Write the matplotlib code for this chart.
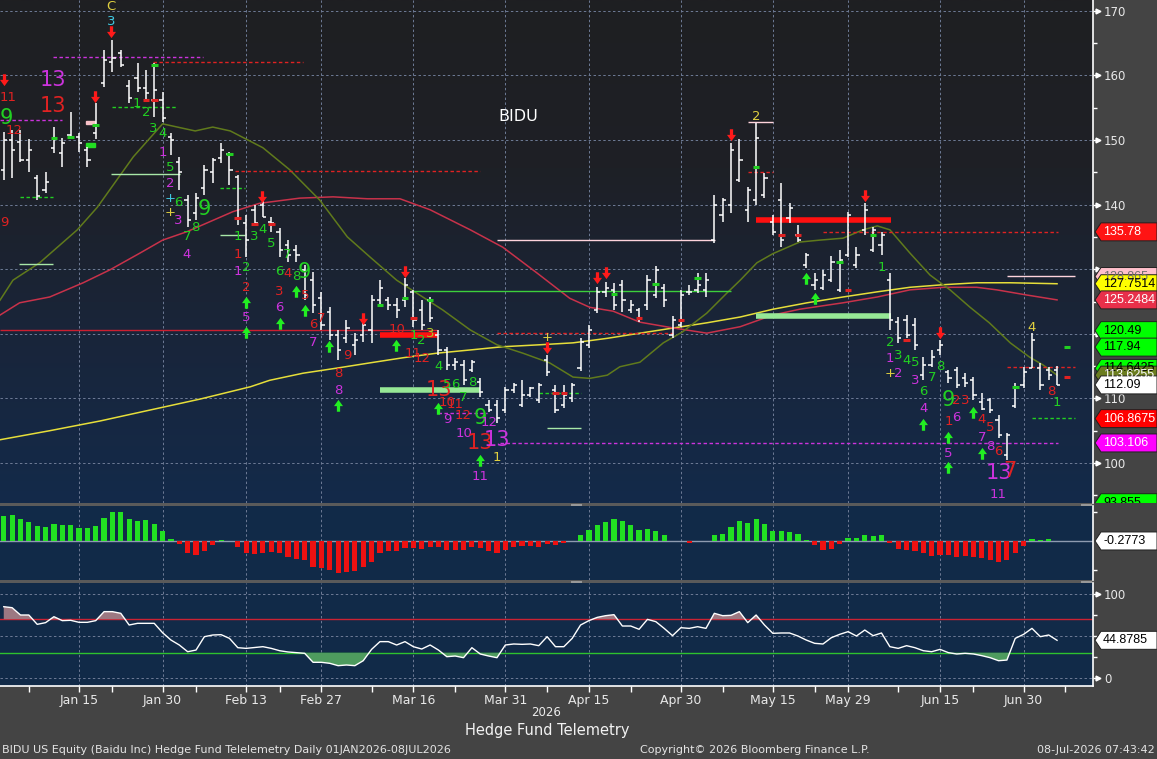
import datetime as dt
import numpy as np
import matplotlib
matplotlib.use("Agg")
import matplotlib.pyplot as plt
from matplotlib.path import Path
from matplotlib.patches import Polygon, Rectangle
from matplotlib.transforms import blended_transform_factory, IdentityTransform, Bbox
from matplotlib.colors import LinearSegmentedColormap

# ------------------------------------------------------------------ data
holidays = ["2026-01-19", "2026-02-16", "2026-04-03", "2026-05-25", "2026-06-19", "2026-07-03"]
first_day = "2026-01-02"

opens = [145.4,150.0,149.7,146.9,144.1,142.3,148.8,148.0,150.8,150.5,
         148.5,151.1,158.8,162.1,163.5,158.4,159.6,158.1,156.2,156.2,
         150.5,146.6,140.7,138.7,142.6,145.0,147.2,147.8,144.3,137.2,
         139.2,139.9,137.3,135.8,133.7,133.0,129.9,128.3,125.5,123.4,
         119.8,119.3,118.3,119.8,120.6,125.2,125.2,124.5,125.2,126.5,
         123.7,125.2,119.8,117.5,115.2,115.2,114.4,112.5,109.0,109.0,
         108.2,111.3,109.0,110.5,109.8,115.9,111.3,109.0,110.1,114.7,
         118.3,123.7,126.5,126.8,127.6,123.7,123.7,124.5,126.0,127.1,
         119.8,121.4,126.5,126.8,126.8,134.5,138.4,139.9,143.8,139.2,
         140.7,141.5,137.3,140.7,137.9,135.3,130.6,127.6,127.1,128.3,
         126.8,132.2,130.6,136.1,133.0,133.7,128.3,121.8,122.1,121.4,
         113.6,115.2,117.5,114.1,114.4,113.2,112.9,109.4,109.8,106.7,
         101.2,108.9,112.1,114.7,114.7,114.4,114.4]
highs = [151.2,151.5,151.5,150.2,144.6,145.0,152.0,150.3,154.3,151.1,
         148.9,155.7,163.9,165.5,163.9,159.3,161.9,160.8,161.9,157.4,
         151.1,147.4,141.5,141.8,146.1,147.2,149.5,148.1,144.6,138.4,
         139.9,140.7,138.1,136.4,134.5,133.7,130.6,129.6,126.5,124.1,
         120.6,122.1,120.1,122.4,126.0,128.3,125.7,125.5,128.6,126.8,
         125.2,125.7,120.6,117.9,116.2,115.9,115.9,113.2,109.8,109.8,
         111.8,112.4,112.9,111.8,112.4,116.7,112.1,112.1,112.4,119.3,
         121.4,127.2,128.0,127.9,128.3,125.2,124.0,129.1,130.5,127.7,
         122.8,126.8,127.6,129.4,129.4,141.5,141.0,149.5,150.1,142.7,
         152.6,144.9,138.4,143.3,140.2,136.8,132.5,129.4,129.9,132.0,
         133.0,138.8,133.4,140.2,136.5,135.8,129.4,122.6,122.9,122.4,
         116.4,117.5,119.0,114.4,114.9,113.9,113.3,110.8,110.1,107.4,
         104.6,112.4,114.9,120.1,115.5,114.9,115.0]
lows = [143.8,144.1,146.6,145.0,140.7,141.8,148.0,145.8,150.3,148.1,
        145.8,150.2,158.2,160.5,161.3,155.7,157.4,156.2,153.6,152.8,
        147.7,142.3,136.5,137.6,141.5,143.3,146.4,143.0,136.8,131.9,
        136.8,138.1,135.8,131.9,131.1,131.1,125.2,123.2,120.6,119.0,
        115.9,118.6,116.7,118.7,118.6,124.2,123.7,122.4,124.2,121.1,
        120.6,121.8,116.7,114.4,114.4,112.1,114.1,110.2,107.9,106.2,
        107.7,110.8,108.7,110.2,109.3,113.5,107.7,108.5,109.4,114.2,
        117.8,123.2,125.7,123.7,123.4,123.2,121.8,123.7,125.5,124.2,
        119.4,121.1,126.0,126.3,125.7,134.1,137.3,138.7,143.5,137.3,
        139.9,141.0,135.3,133.4,137.1,134.2,130.2,126.8,126.8,128.0,
        126.5,131.9,130.2,135.3,132.7,132.2,120.6,118.6,119.3,117.5,
        112.9,114.9,116.7,112.4,111.6,111.8,109.8,108.2,107.7,103.9,
        100.5,108.5,111.6,114.7,111.3,112.9,112.1]
closes = [150.0,148.5,146.9,148.5,141.3,143.5,150.3,149.5,150.5,149.5,
          146.9,152.3,162.4,162.7,161.6,156.5,158.1,157.3,157.7,153.4,
          150.0,145.0,137.6,141.0,145.4,146.9,148.5,145.4,137.9,134.5,
          137.2,138.1,137.2,133.0,132.2,132.2,126.0,124.5,121.4,119.8,
          117.5,120.9,119.0,121.4,125.2,127.1,124.5,123.7,127.6,122.1,
          121.4,122.4,117.5,115.2,115.6,112.9,115.6,111.0,108.2,107.0,
          111.3,112.1,110.5,111.6,112.1,114.1,108.2,110.5,112.1,118.7,
          120.6,126.5,127.1,124.5,125.2,124.5,122.4,128.3,129.9,125.2,
          122.1,126.0,126.5,127.6,128.3,139.9,140.7,148.5,146.9,142.3,
          150.3,144.1,135.8,134.5,139.5,134.5,132.2,128.3,129.1,131.1,
          131.4,138.4,132.2,139.2,136.1,135.3,122.1,119.3,119.8,118.3,
          115.2,116.4,118.3,113.2,112.1,112.4,110.5,108.4,108.2,104.3,
          104.3,111.6,114.1,119.0,112.1,113.6,112.09]

# moving averages (bar index, price)
ma_short_x = [-0.45,1.1,4.3,8.8,11.2,15.5,19.0,22.9,25.0,27.1,31.0,34.2,37.8,41.1,43.8,47.0,49.4,
              52.5,55.8,59.0,62.1,65.3,68.1,70.1,72.2,73.7,76.1,78.9,81.2,84.1,86.5,88.1,90.1,92.0,
              95.2,97.6,100.4,102.8,104.5,106.0,108.4,110.8,113.2,115.6,117.9,120.4,122.7,124.3,126.0]
ma_short_y = [125.2,128.3,131.0,136.1,139.6,147.4,152.5,151.4,152.0,151.4,148.8,145.4,140.7,135.0,131.9,
              128.3,126.3,123.7,120.6,118.3,117.0,115.5,113.3,113.1,113.6,114.9,115.6,118.6,120.3,123.2,
              126.3,128.3,131.0,132.4,134.2,134.5,134.8,136.1,136.7,136.1,132.5,129.1,126.8,124.1,121.7,
              118.6,116.4,115.2,113.6]
ma_mid_x = [-0.45,1.9,5.5,9.5,12.7,16.3,19.0,21.9,27.4,30.6,35.4,39.4,43.5,47.4,51.0,55.8,59.7,63.8,
            67.7,70.1,72.9,76.1,80.1,84.1,88.1,92.0,95.2,100.4,104.5,108.4,112.4,116.4,118.8,122.4,126.0]
ma_mid_y = [122.9,124.8,125.7,127.9,129.9,132.5,134.5,135.8,138.9,140.2,141.0,141.2,140.9,140.9,139.2,
            136.1,133.4,129.4,125.5,124.1,123.5,121.8,120.9,120.1,121.1,122.9,123.8,124.8,125.7,126.8,
            127.2,127.2,126.8,126.0,125.25]
ma_long_x = [-0.45,5.5,11.5,17.5,23.5,29.5,31.8,35.8,39.9,43.8,47.8,51.8,55.8,59.7,64.1,68.1,72.2,
             76.1,80.1,84.1,88.1,92.0,96.1,100.4,104.5,108.4,112.4,116.4,120.4,126.0]
ma_long_y = [103.6,105.0,106.5,108.2,109.9,111.8,112.8,113.9,114.7,115.5,116.3,117.0,117.5,118.0,118.3,
             118.6,119.3,120.1,120.9,121.7,122.6,123.8,124.8,125.7,126.5,127.2,127.6,127.9,127.9,127.75]

hist = [1.72,1.79,1.50,1.29,1.03,0.99,1.15,1.10,1.10,0.90,
        0.90,1.03,1.59,1.98,1.98,1.52,1.38,1.45,1.15,0.69,
        0.14,-0.23,-0.85,-0.97,-0.69,-0.28,0.07,0.00,-0.39,-0.85,
        -0.92,-0.81,-0.74,-0.85,-1.08,-1.24,-1.31,-1.77,-1.88,-2.00,
        -2.19,-2.12,-2.05,-1.77,-1.43,-0.85,-0.67,-0.67,-0.46,-0.50,
        -0.55,-0.39,-0.39,-0.62,-0.62,-0.62,-0.39,-0.50,-0.67,-0.81,
        -0.62,-0.39,-0.34,-0.32,-0.39,-0.21,-0.28,-0.16,0.00,0.41,
        0.76,1.10,1.29,1.52,1.38,1.10,0.76,0.83,0.69,0.41,
        0.02,-0.02,-0.12,0.02,0.01,0.41,0.48,0.94,1.38,1.26,
        1.52,1.17,0.69,0.69,0.60,0.48,0.07,-0.28,-0.62,-0.55,
        -0.23,0.23,0.23,0.41,0.34,0.41,-0.16,-0.55,-0.62,-0.69,
        -0.81,-1.01,-0.97,-0.97,-1.08,-1.01,-1.08,-1.19,-1.31,-1.43,
        -1.31,-0.81,-0.34,0.14,0.07,0.14,0.02]

rsi = [84.9,83.7,75.0,75.0,63.9,65.9,73.0,68.3,68.7,66.3,
       66.3,68.3,79.0,79.0,77.0,63.1,65.1,65.1,65.1,53.9,
       45.2,39.3,31.3,33.3,49.2,51.2,51.6,47.2,36.1,35.3,
       36.3,37.3,35.3,32.5,31.0,30.2,29.4,18.7,18.7,17.5,
       14.7,15.5,14.7,20.6,34.1,43.3,43.3,39.3,43.3,37.3,
       34.5,39.3,33.3,25.4,26.2,24.2,36.1,28.6,26.2,24.2,
       39.3,40.5,40.1,40.5,38.5,49.2,37.3,37.3,47.2,63.1,
       68.3,72.2,74.2,75.4,61.9,61.9,58.0,69.8,67.1,59.1,
       50.4,59.9,59.1,61.1,59.1,77.0,74.2,74.6,79.0,65.9,
       75.0,63.1,53.2,53.6,53.6,50.0,45.2,41.3,40.5,48.0,
       52.0,55.2,50.0,57.1,50.4,53.6,37.3,35.3,38.5,36.1,
       32.5,31.3,34.1,30.2,28.6,29.4,28.6,26.6,24.2,20.6,
       21.4,47.2,52.0,59.1,49.2,51.2,44.9]

tick_dates = ["2026-01-15", "2026-01-30", "2026-02-13", "2026-02-27", "2026-03-16", "2026-03-31",
              "2026-04-15", "2026-04-30", "2026-05-15", "2026-05-29", "2026-06-15", "2026-06-30"]
tick_labels = ["Jan 15", "Jan 30", "Feb 13", "Feb 27", "Mar 16", "Mar 31",
               "Apr 15", "Apr 30", "May 15", "May 29", "Jun 15", "Jun 30"]
minor_tick_dates = ["2026-01-07", "2026-01-22", "2026-02-05", "2026-02-20", "2026-03-09", "2026-03-23",
                    "2026-04-08", "2026-04-22", "2026-05-07", "2026-05-22", "2026-06-08", "2026-06-22",
                    "2026-07-08"]
price_tick_values = [100, 110, 120, 130, 140, 150, 160, 170]
price_tick_labels = ["100", "110", "", "", "140", "150", "160", "170"]

# TD-sequential style counts: (bar index, price, text, colour key, big)
td_labels = [
    (12.8,170.6,'C','Y',0),(12.8,168.3,'3','C',0),(0.5,156.6,'11','R',0),(5.9,159.3,'13','M',1),
    (5.9,155.3,'13','R',1),(0.3,153.4,'9','G',1),(1.2,151.5,'12','R',0),(15.9,155.7,'1','G',0),
    (17.0,154.3,'2','G',0),(17.9,151.8,'3','G',0),(19.0,151.0,'4','G',0),(19.0,148.1,'1','M',0),
    (19.9,145.8,'5','G',0),(19.9,143.2,'2','M',0),(19.9,140.9,'+','C',0),(20.9,140.4,'6','G',0),
    (24.0,139.3,'9','G',1),(19.9,138.7,'+','Y',0),(20.9,137.6,'3','M',0),(22.9,136.4,'8','G',0),
    (21.9,135.0,'7','G',0),(21.9,132.2,'4','M',0),(28.0,135.0,'1','G',0),(30.0,135.0,'3','G',0),
    (30.9,136.2,'4','G',0),(32.0,134.0,'5','G',0),(33.9,132.2,'7','G',0),(28.0,132.2,'1','R',0),
    (28.0,129.6,'1','M',0),(29.0,130.2,'2','G',0),(29.0,127.2,'2','R',0),(29.0,122.6,'5','M',0),
    (33.0,129.6,'6','G',0),(33.0,126.5,'3','R',0),(33.0,124.0,'6','M',0),(33.9,129.4,'4','R',0),
    (35.0,128.8,'8','G',0),(36.0,129.6,'9','G',1),(36.0,126.0,'5','R',0),(37.0,121.4,'6','R',0),
    (38.0,122.4,'7','R',0),(37.0,118.6,'7','M',0),(41.1,116.7,'9','R',0),(40.0,113.9,'8','R',0),
    (40.0,111.3,'8','M',0),(47.0,120.6,'10','R',0),(49.0,119.8,'1','G',0),(50.0,118.9,'2','G',0),
    (51.0,120.1,'3','O',0),(49.0,117.0,'11','R',0),(50.0,116.1,'12','R',0),(52.0,114.9,'4','G',0),
    (52.0,111.3,'13','R',1),(53.0,112.1,'5','G',0),(54.0,112.1,'6','G',0),(56.0,112.4,'8','G',0),
    (55.0,110.2,'7','G',0),(53.0,109.4,'10','R',0),(54.0,109.1,'11','R',0),(55.0,107.4,'12','R',0),
    (53.0,106.8,'9','M',0),(57.0,107.0,'9','G',1),(58.0,106.2,'12','M',0),(55.0,104.6,'10','M',0),
    (57.0,103.1,'13','R',1),(59.0,103.6,'13','M',1),(59.0,100.8,'1','Y',0),(57.0,97.9,'11','M',0),
    (65.0,119.5,'+','Y',0),(90.0,153.6,'2','Y',0),(105.0,130.3,'1','G',0),(106.0,118.7,'2','G',0),
    (106.0,116.1,'1','M',0),(107.0,116.6,'3','G',0),(108.0,115.9,'4','G',0),(109.0,115.6,'5','G',0),
    (106.0,113.9,'+','Y',0),(107.0,113.9,'2','M',0),(109.0,112.8,'3','M',0),(111.0,113.2,'7','G',0),
    (112.0,114.9,'8','G',0),(110.0,111.1,'6','G',0),(110.0,108.4,'4','M',0),(113.0,109.8,'9','G',1),
    (114.0,109.6,'2','R',0),(115.0,109.6,'3','R',0),(113.0,106.4,'1','R',0),(114.0,107.0,'6','M',0),
    (113.0,101.5,'5','M',0),(117.0,106.8,'4','R',0),(118.0,105.5,'5','R',0),(117.0,104.0,'7','M',0),
    (118.0,102.5,'8','M',0),(119.0,101.8,'6','R',0),(119.0,98.4,'13','M',1),(120.3,98.7,'7','R',1),
    (119.0,95.2,'11','M',0),(123.0,121.0,'4','Y',0),(125.3,111.1,'8','R',0),(126.0,109.4,'1','G',0),
    (0.1,137.2,'9','R',0),
]
down_arrows = [(12.8,166.7),(0.0,159.3),(10.9,156.6),(30.9,141.2),(43.0,122.3),(48.0,129.6),
               (65.0,117.8),(71.0,128.6),(72.0,129.4),(87.0,150.8),(103.0,141.3),(112.0,120.1)]
up_arrows = [(29.0,124.9),(29.0,120.3),(33.0,121.7),(35.0,126.6),(36.0,123.7),(38.9,118.1),
             (40.0,109.0),(46.9,118.3),(52.0,108.5),(57.0,100.5),(96.0,128.6),(97.0,125.5),
             (110.0,106.0),(113.0,104.0),(113.0,99.4),(116.0,107.9),(117.0,101.5)]
bar_marks = [(6,150.3,'G'),(8,150.5,'G'),(11,152.3,'G'),(18,161.6,'G'),(17,156.2,'R'),(18,156.2,'R'),
             (27,147.8,'G'),(28,137.9,'R'),(30,137.0,'R'),(32,137.0,'R'),(45,124.5,'G'),(48,125.5,'G'),
             (49,122.4,'R'),(51,125.2,'G'),(66,110.8,'R'),(67,110.8,'R'),(73,126.2,'G'),(76,122.4,'R'),
             (78,127.7,'G'),(81,122.1,'R'),(83,128.6,'G'),(90,145.8,'G'),(93,135.3,'R'),(95,135.3,'R'),
             (100,131.1,'G'),(101,126.8,'R'),(104,135.3,'G'),(108,119.0,'R'),(121,111.8,'G'),
             (127.2,118.0,'G'),(127.2,113.3,'R')]
# level lines: (from index, to index, price, colour key, style)
levels = [
    (-0.45,7.0,153.1,'M','--'),(5.9,23.8,162.8,'M','--'),(17.9,35.8,162.0,'R','--'),
    (12.9,20.7,155.1,'G','--'),(12.8,21.1,144.7,'PG','-'),(25.9,28.9,142.6,'G','--'),
    (27.7,57.0,145.2,'R','--'),(1.9,5.9,141.2,'G','--'),(25.9,28.9,135.3,'PG','-'),
    (1.8,5.9,130.8,'PG','-'),(-0.45,51.8,120.6,'RS','-'),(52.0,57.8,107.7,'M','--'),
    (59.4,126.1,103.106,'M','--'),(59.0,85.1,134.5,'PK','-'),(49.0,87.0,126.6,'GL','-'),
    (59.0,80.0,120.1,'R','--'),(64.0,69.0,110.9,'G','--'),(65.0,69.0,105.4,'PG','-'),
    (89.0,92.0,145.0,'R','--'),(89.0,92.0,152.8,'PK','-'),(98.0,126.1,135.78,'R','--'),
    (120.0,128.1,128.9,'PK','-'),(120.0,128.1,114.9,'R','--'),(123.0,128.1,107.0,'G','--'),
]
thick_levels = [(45.0,51.8,119.8,'RT'),(45.0,57.0,111.3,'PGT'),(90.0,106.1,137.6,'RT'),(90.0,106.1,122.8,'PGT')]
small_boxes = [(9.85,10.9,152.4,153.0,'#f7c0c8'),(9.85,10.9,148.9,149.6,'#22dd22')]

# right-hand value flags (value, text, background, text colour)
price_flags = [(135.78,'135.78','#ff1414','white'),(128.865,'128.865','#ffc0cb','#707070'),
               (127.7514,'127.7514','#ffff00','black'),(125.2484,'125.2484','#e8304a','white'),
               (120.49,'120.49','#00ff00','black'),(117.94,'117.94','#00ff00','black'),
               (114.6425,'114.6425','#00ff00','black'),(113.6,'113.6255','#6b7d20','white'),
               (112.09,'112.09','white','black'),(106.8675,'106.8675','#ff0000','white'),
               (103.106,'103.106','#ff00ff','white'),(93.855,'93.855','#00ff00','black')]
hist_flag = (0.0, '-0.2773')
rsi_flag = (44.8785, '44.8785')

COL = {'G':'#22d022','R':'#e02222','M':'#cc33dd','Y':'#e0d040','C':'#40c8e0','O':'#a8c828',
       'PG':'#a8e8a8','PK':'#ffd4dc','GL':'#3ccf3c','RS':'#cc1f30','RT':'#ff1010','PGT':'#96e896'}

# ------------------------------------------------------------------ calendar -> bar index
hol = {dt.date.fromisoformat(h) for h in holidays}
d = dt.date.fromisoformat(first_day)
days = []
while d <= dt.date(2026, 7, 31):
    if d.weekday() < 5 and d not in hol:
        days.append(d)
    d += dt.timedelta(days=1)
pos = {dd: k for k, dd in enumerate(days)}
major_idx = [pos[dt.date.fromisoformat(s)] for s in tick_dates]
minor_idx = [pos[dt.date.fromisoformat(s)] for s in minor_tick_dates]

n = len(opens)
x = np.arange(n)
opens, highs, lows, closes = map(np.array, (opens, highs, lows, closes))
hist = np.array(hist); rsi = np.array(rsi)

# ------------------------------------------------------------------ figure
W, H = 1157, 759
fig = plt.figure(figsize=(W / 100, H / 100), dpi=100, facecolor='#444444')
plt.rcParams['font.family'] = ['DejaVu Sans']

def rect(l, t, r, b):
    return [l / W, 1 - b / H, (r - l) / W, (b - t) / H]

bg = fig.add_axes([0, 0, 1, 1], zorder=-5)
bg.set_xlim(0, W); bg.set_ylim(H, 0); bg.axis('off')
bg.add_patch(Rectangle((0, 503), 1093, 3, color='#5a5a5a'))
bg.add_patch(Rectangle((0, 580), 1093, 3, color='#5a5a5a'))
for gx in (576, 1086):
    for gy in (503, 580):
        bg.plot([gx - 5, gx + 5], [gy + 0.6, gy + 0.6], color='#9a9a9a', lw=0.7)
        bg.plot([gx - 5, gx + 5], [gy + 2.2, gy + 2.2], color='#9a9a9a', lw=0.7)

ax = fig.add_axes(rect(0, 0, 1093, 503))
axh = fig.add_axes(rect(0, 506, 1093, 580), sharex=ax)
axr = fig.add_axes(rect(0, 583, 1093, 686), sharex=ax)

XL = (-0.45, 130.3)
PY = (93.81, 171.67)
HY = (-2.69, 2.41)
RY = (-9.5, 113.1)

grad = np.linspace(0, 1, 256).reshape(-1, 1)
cmap = LinearSegmentedColormap.from_list('bgc', ['#132a4a', '#19253a', '#1e2026', '#1f1f22'])
ax.imshow(grad, extent=[0, 1, 0, 1], transform=ax.transAxes, cmap=cmap, aspect='auto',
          origin='lower', zorder=0)
axh.set_facecolor('#112a48')
axr.set_facecolor('#112a48')

ax.set_xlim(*XL); ax.set_ylim(*PY)
axh.set_ylim(*HY); axr.set_ylim(*RY)

grid_kw = dict(color='#6e7b96', lw=0.7, ls=(0, (2.5, 2.5)), zorder=1)
for v in price_tick_values:
    ax.axhline(v, **grid_kw)
for v in (0, 50, 100):
    axr.axhline(v, **grid_kw)
for a in (ax, axh, axr):
    for k in major_idx:
        a.axvline(k, **grid_kw)

for a in (ax, axh, axr):
    for s in ('top', 'left', 'bottom'):
        a.spines[s].set_visible(False)
    a.spines['right'].set_color('white')
    a.spines['right'].set_linewidth(1.2)
    a.yaxis.tick_right()
    a.tick_params(axis='y', which='both', colors='white', labelcolor='#e8e8e8', labelsize=8.5,
                  length=3, width=1, pad=5, direction='out')
    a.tick_params(axis='x', which='both', bottom=False, labelbottom=False)
axr.spines['bottom'].set_visible(True)
axr.spines['bottom'].set_color('white')
axr.spines['bottom'].set_linewidth(1.2)
axr.set_xticks(major_idx)
axr.set_xticklabels(tick_labels)
axr.set_xticks(minor_idx, minor=True)
axr.tick_params(axis='x', which='both', bottom=True, labelbottom=True, colors='white',
                labelcolor='#e8e8e8', labelsize=9, length=4, width=1, pad=1.5, direction='out')

ax.set_yticks(price_tick_values)
ax.set_yticklabels(price_tick_labels)
ax.set_yticks(range(95, 171, 5), minor=True)
axh.set_yticks([-2, 2]); axh.set_yticklabels([])
axr.set_yticks([0, 50, 100]); axr.set_yticklabels(['0', '', '100'])
axr.set_yticks([25, 75], minor=True)

def tick_pointers(a, vals):
    tr = blended_transform_factory(IdentityTransform(), a.transData)
    a.plot([1097.5] * len(vals), vals, linestyle='none', marker='>', ms=3.5, color='white',
           transform=tr, clip_on=False, zorder=5)
tick_pointers(ax, price_tick_values)
tick_pointers(axr, [0, 100])

# ------------------------------------------------------------------ price panel
ax.plot(ma_long_x, ma_long_y, color='#e6de3a', lw=1.1, zorder=2)
ax.plot(ma_mid_x, ma_mid_y, color='#c8324a', lw=1.1, zorder=2)
ax.plot(ma_short_x, ma_short_y, color='#607a1c', lw=1.1, zorder=2)

for x0, x1, yv, ck, st in levels:
    ls = (0, (2.5, 1.8)) if st == '--' else '-'
    ax.hlines(yv, x0, x1, colors=COL[ck], linestyles=[ls], lw=1.0, zorder=2)
for x0, x1, yv, ck in thick_levels:
    ax.hlines(yv, x0, x1, colors=COL[ck], lw=4.0, zorder=2)
for x0, x1, y0, y1, c in small_boxes:
    ax.add_patch(Rectangle((x0, y0), x1 - x0, y1 - y0, color=c, zorder=3))

ax.vlines(x, lows, highs, color='white', lw=1.1, zorder=3)
ax.hlines(opens, x - 0.38, x, color='white', lw=1.1, zorder=3)
ax.hlines(closes, x, x + 0.38, color='white', lw=1.1, zorder=3)

for bi, yv, ck in bar_marks:
    ax.hlines(yv, bi - 0.4, bi + 0.4, colors=COL[ck], lw=2.2, zorder=4)

down_path = Path([(-0.26, 1.0), (0.26, 1.0), (0.26, 0.1), (0.72, 0.1), (0.0, -0.9),
                  (-0.72, 0.1), (-0.26, 0.1), (-0.26, 1.0)], closed=True)
up_path = Path([(-0.26, -1.0), (0.26, -1.0), (0.26, -0.1), (0.72, -0.1), (0.0, 0.9),
                (-0.72, -0.1), (-0.26, -0.1), (-0.26, -1.0)], closed=True)
ax.plot([p[0] for p in down_arrows], [p[1] for p in down_arrows], linestyle='none',
        marker=down_path, ms=9, color='#ff1a1a', markeredgewidth=0, zorder=5)
ax.plot([p[0] for p in up_arrows], [p[1] for p in up_arrows], linestyle='none',
        marker=up_path, ms=9, color='#22ee22', markeredgewidth=0, zorder=5)

for bi, yv, t, ck, big in td_labels:
    ax.text(bi, yv, t, color=COL[ck], fontsize=15 if big else 9.5, ha='center', va='center',
            zorder=6, clip_on=True)

ax.text(61.6, 153.6, 'BIDU', color='white', fontsize=11.5, ha='center', va='center', zorder=6)

# ------------------------------------------------------------------ histogram panel
axh.axhline(0, color='#8e9bb0', lw=1.0, zorder=1)
hcol = np.where(hist >= 0, '#22e022', '#ee1111')
axh.bar(x, hist, width=0.62, color=hcol, zorder=2)

# ------------------------------------------------------------------ RSI panel
axr.axhline(70, color='#cc2233', lw=1.0, zorder=2)
axr.axhline(30, color='#2ec22e', lw=1.0, zorder=2)
axr.fill_between(x, rsi, 70, where=rsi > 70, interpolate=True, color='#9c7882', zorder=2, lw=0)
axr.fill_between(x, rsi, 30, where=rsi < 30, interpolate=True, color='#4e9b5e', zorder=2, lw=0)
axr.plot(x, rsi, color='white', lw=1.0, zorder=3)

# ------------------------------------------------------------------ value flags
def flag(a, val, txt, bgc, fgc, clip_bottom=None):
    tr = blended_transform_factory(IdentityTransform(), a.transData)
    y0, y1 = a.get_ylim()
    ppu = a.bbox.height / (y1 - y0)
    hh = 9.0 / ppu
    verts = [(1095, val), (1101, val + hh), (1157, val + hh), (1157, val - hh), (1101, val - hh)]
    p = Polygon(verts, closed=True, transform=tr, facecolor=bgc, edgecolor='#202020', lw=0.7,
                zorder=10)
    t = a.text(1103, val, txt, transform=tr, color=fgc, fontsize=9, va='center', ha='left',
               family='Liberation Sans', zorder=11)
    a.add_patch(p)
    if clip_bottom is not None:
        cb = Bbox.from_extents(1090, clip_bottom, 1157, H)
        p.set_clip_box(cb); p.set_clip_on(True)
        t.set_clip_box(cb); t.set_clip_on(True)
    else:
        p.set_clip_on(False); t.set_clip_on(False)

for val, txt, bgc, fgc in price_flags:
    flag(ax, val, txt, bgc, fgc, clip_bottom=(H - 503) if val < 95 else None)
flag(axh, hist_flag[0], hist_flag[1], 'white', 'black')
flag(axr, rsi_flag[0], rsi_flag[1], 'white', 'black')

# ------------------------------------------------------------------ footer texts
fig.text(546 / W, 1 - 712 / H, '2026', color='#ececec', fontsize=8.5, ha='center', va='center')
fig.text(547 / W, 1 - 731 / H, 'Hedge Fund Telemetry', color='#f2f2f2', fontsize=10.5,
         ha='center', va='center')
fig.text(2 / W, 1 - 750 / H, 'BIDU US Equity (Baidu Inc) Hedge Fund Telelemetry Daily 01JAN2026-08JUL2026',
         color='#e4e4e4', fontsize=8, ha='left', va='center')
fig.text(755 / W, 1 - 750 / H, 'Copyright\u00a9 2026 Bloomberg Finance L.P.', color='#e4e4e4',
         fontsize=8, ha='center', va='center')
fig.text(1155 / W, 1 - 750 / H, '08-Jul-2026 07:43:42', color='#e4e4e4', fontsize=8,
         ha='right', va='center')

fig.savefig('out.png', dpi=100, facecolor=fig.get_facecolor())
